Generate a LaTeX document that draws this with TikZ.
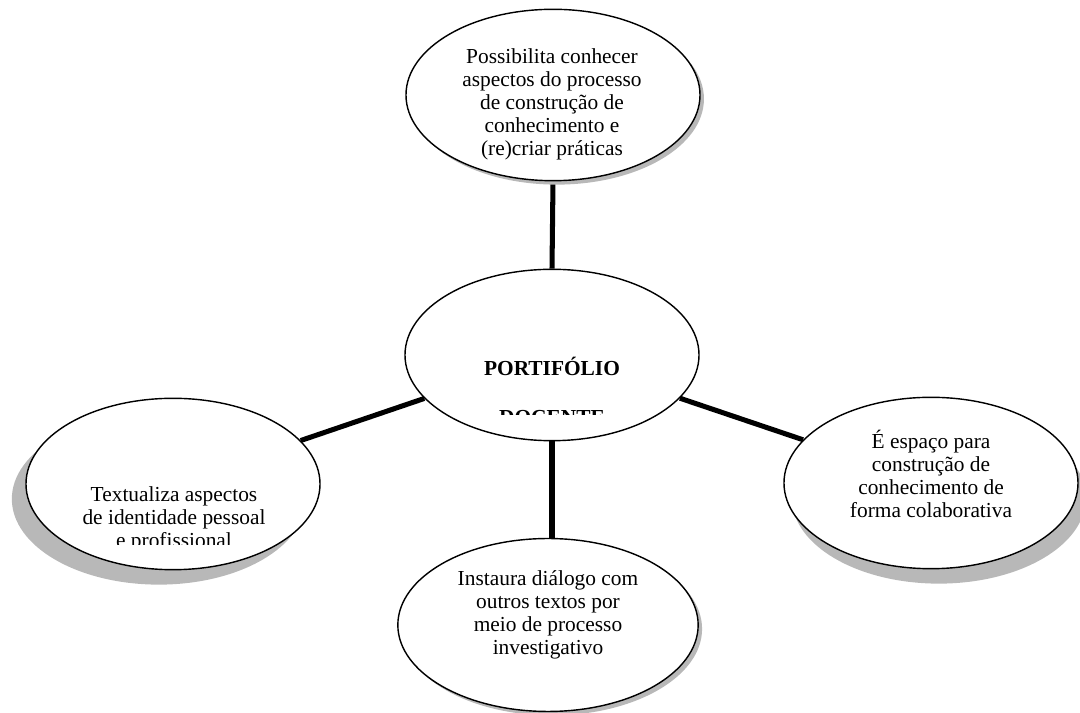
\documentclass[tikz,border=0pt]{standalone}
\usepackage{fontspec}
\setmainfont{Liberation Serif}
\usetikzlibrary{shapes.geometric,shadows,backgrounds}

\tikzset{
  balao/.style={ellipse, draw, line width=0.9pt, fill=white, inner sep=0pt,
    minimum width=187pt, minimum height=109pt},
  sombra/.style 2 args={drop shadow={shadow xshift=#1, shadow yshift=#2,
    fill=black!28, opacity=1}},
  texto/.style={align=center, inner sep=0pt, font=\fontsize{13.6}{14.6}\selectfont},
  elo/.style={line width=3.2pt}
}

\begin{document}
\begin{tikzpicture}[x=0.636pt, y=-0.636pt]
    \useasboundingbox (0,0) rectangle (1080,713);

    % baloes
    \node [balao, sombra={2.5pt}{-2.5pt}] (topo) at (553,95) {};
    \node [balao] (centro) at (552,355) {};
    \node [balao, sombra={-9pt}{-9.5pt}] (esq) at (173,484) {};
    \node [balao, sombra={5pt}{-9.5pt}] (dir) at (931,483) {};
    \node [balao, minimum width=191pt, minimum height=110pt, sombra={2.5pt}{-2.5pt}] (baixo) at (548,625) {};

    % ligacoes
    \begin{pgfonlayer}{background}
        \draw [elo] (centro.north) -- (topo.south);
        \draw [elo] (centro.south) -- (centro.south |- baixo.north);
        \draw [elo] (centro) -- (esq);
        \draw [elo] (centro) -- (dir);
    \end{pgfonlayer}

    % textos
    \node [texto] (t-topo) at (552,104) {Possibilita conhecer\\aspectos do processo\\de construção de\\conhecimento e\\(re)criar práticas};
    \node [texto] (t-dir) at (931,474) {É espaço para\\construção de\\conhecimento de\\forma colaborativa};
    \node [texto] (t-baixo) at (548,615) {Instaura diálogo com\\outros textos por\\meio de processo\\investigativo};
    \begin{scope}
        \clip (400,270) rectangle (705,415);
        \node [texto, font=\fontsize{13.6}{14.6}\selectfont\bfseries] (t-centro) at (552,391) {PORTIFÓLIO\\[17pt]DOCENTE};
    \end{scope}
    \begin{scope}
        \clip (20,395) rectangle (330,545);
        \node [texto] (t-esq) at (174,519) {Textualiza aspectos\\de identidade pessoal\\e profissional};
    \end{scope}
\end{tikzpicture}
\end{document}
